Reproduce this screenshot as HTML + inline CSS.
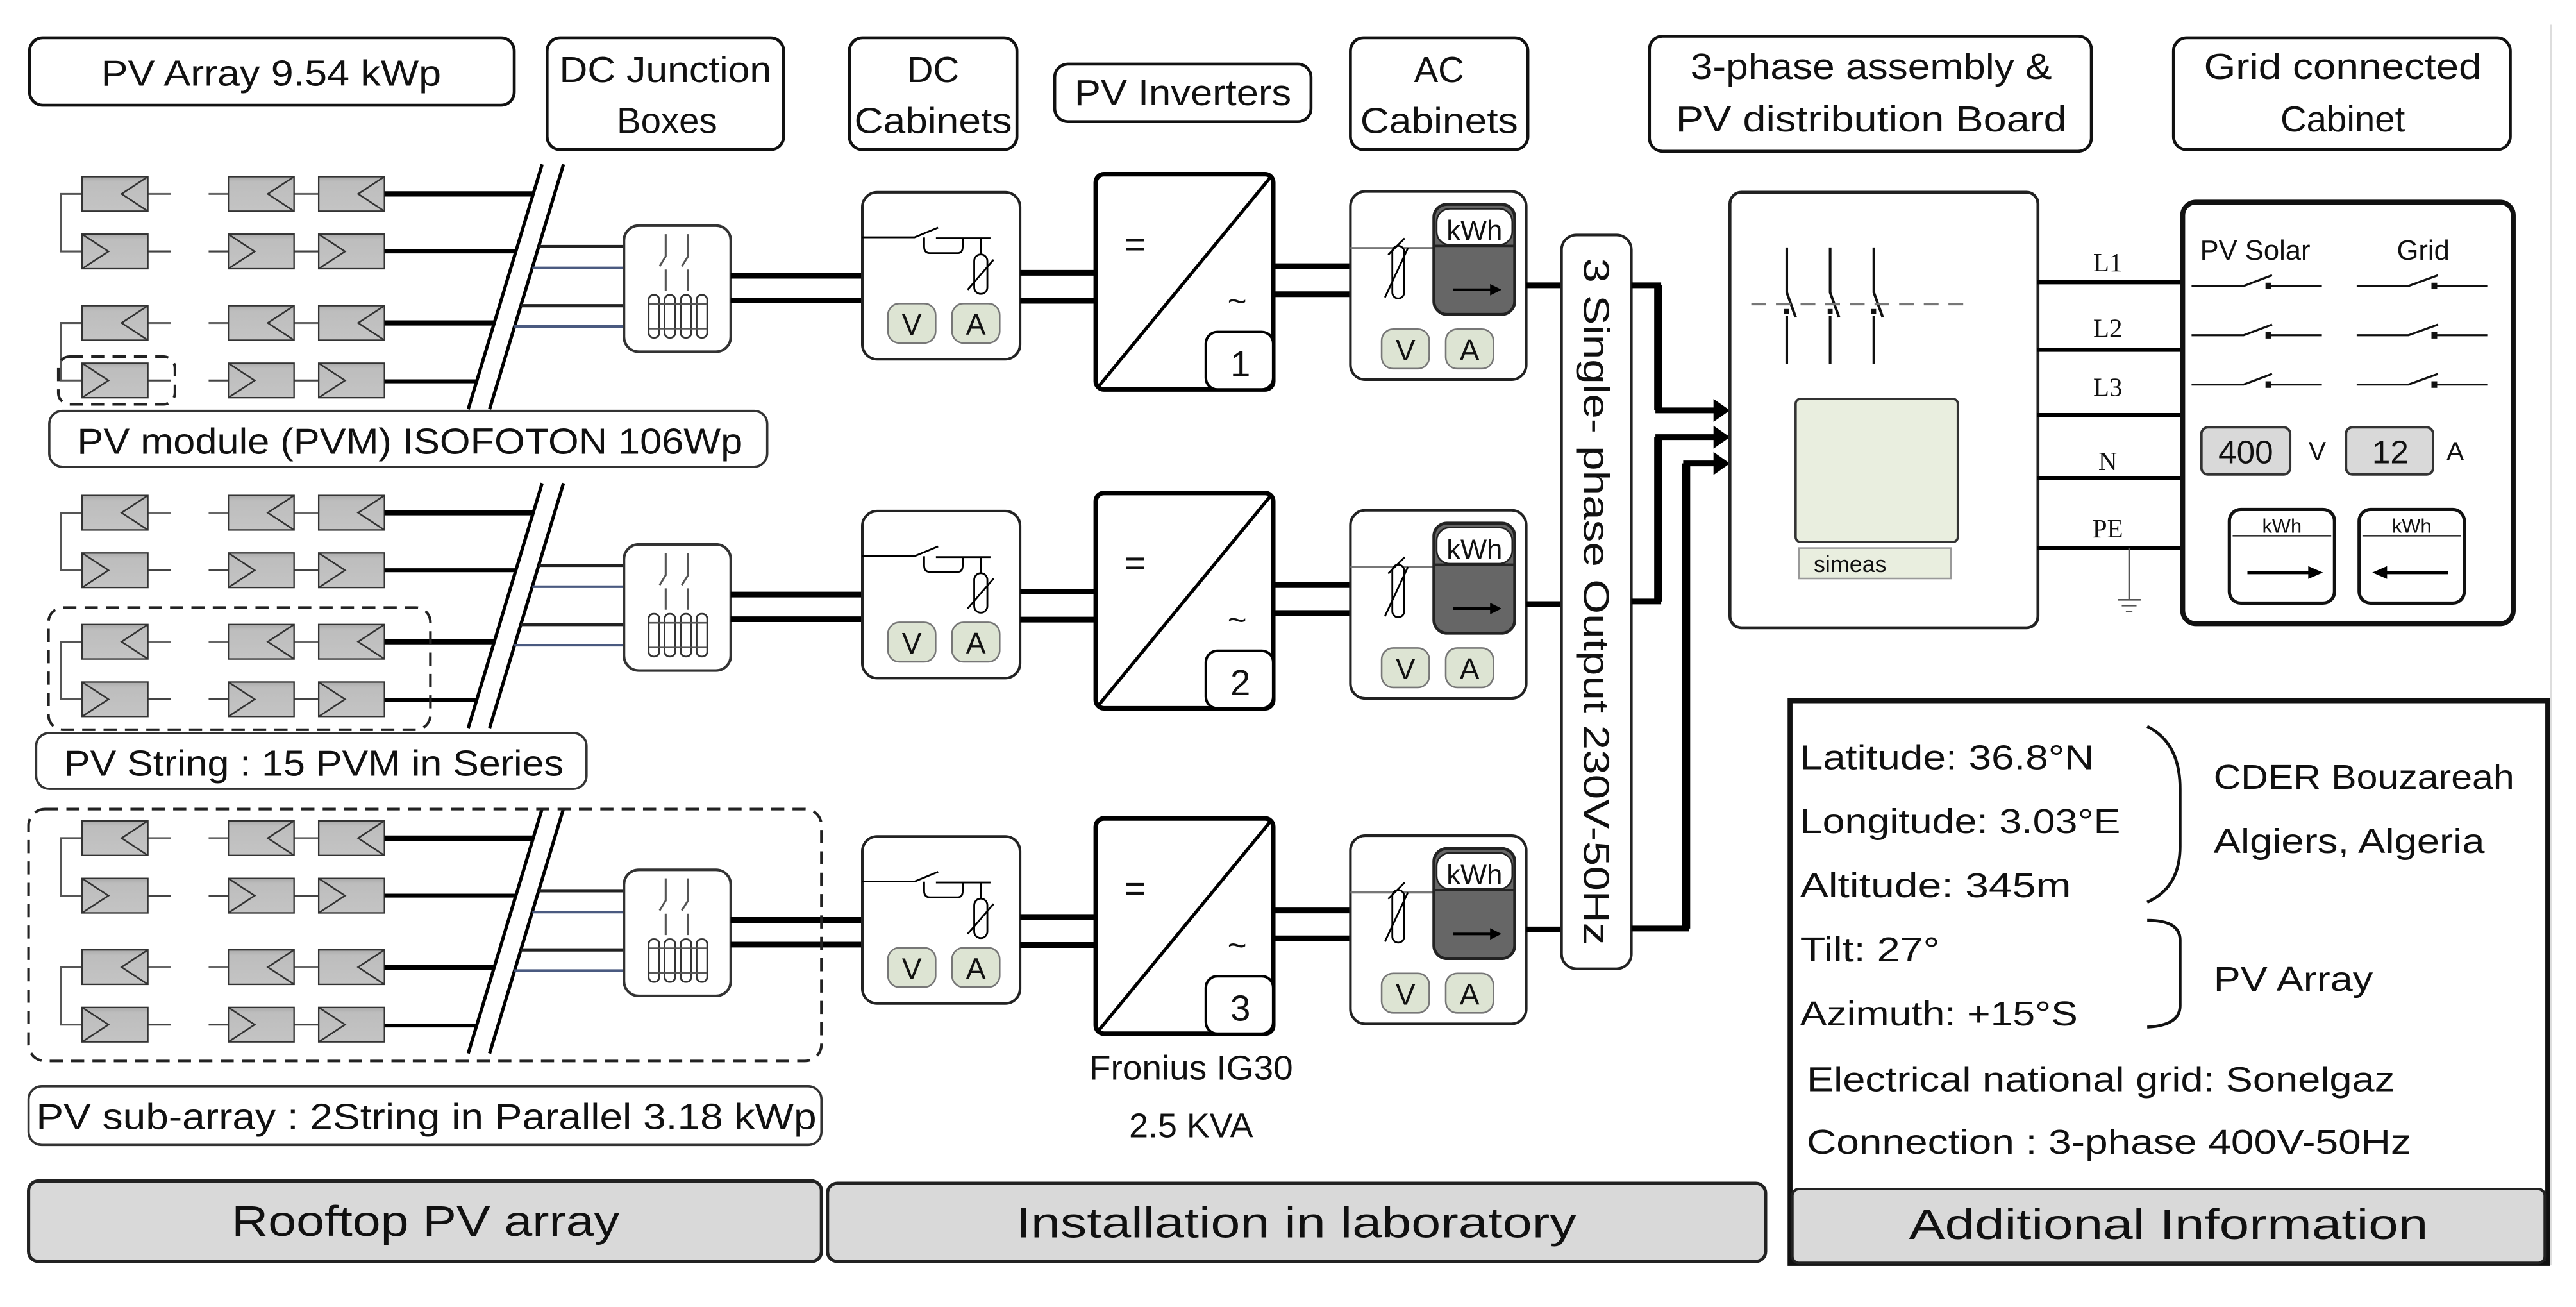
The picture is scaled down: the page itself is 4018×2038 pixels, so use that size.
<!DOCTYPE html>
<html><head><meta charset="utf-8">
<style>
html,body{margin:0;padding:0;background:#fff;}
svg{display:block;}
text{font-family:"Liberation Sans Narrow","Liberation Sans",sans-serif;fill:#111;}
.serif{font-family:"Liberation Serif",serif;}
</style></head>
<body>
<svg width="4018" height="2038" viewBox="0 0 1568 795.3" xmlns="http://www.w3.org/2000/svg">
<defs>
  <linearGradient id="mg" x1="0" y1="0" x2="0" y2="1">
    <stop offset="0" stop-color="#a9a9a9"/><stop offset="0.15" stop-color="#bdbdbd"/><stop offset="1" stop-color="#c4c4c4"/>
  </linearGradient>
  <g id="mL"><rect x="0" y="0" width="40" height="21" fill="url(#mg)" stroke="#333" stroke-width="0.9"/><polyline points="40,0 24,10.5 40,21" fill="none" stroke="#333" stroke-width="1"/></g>
  <g id="mR"><rect x="0" y="0" width="40" height="21" fill="url(#mg)" stroke="#333" stroke-width="0.9"/><polyline points="0,0 16,10.5 0,21" fill="none" stroke="#333" stroke-width="1"/></g>
  <g id="pair">
    <!-- top string (y=0) and bottom string (y=35) -->
    <path d="M50,10.5 H37 V45.5 H50" fill="none" stroke="#555" stroke-width="1.2"/>
    <path d="M90,10.5 H104 M127,10.5 H139 M179,10.5 H194" stroke="#666" stroke-width="1.2"/>
    <path d="M90,45.5 H104 M127,45.5 H139 M179,45.5 H194" stroke="#444" stroke-width="1.2"/>
    <use href="#mL" x="50" y="0"/><use href="#mL" x="139" y="0"/><use href="#mL" x="194" y="0"/>
    <use href="#mR" x="50" y="35"/><use href="#mR" x="139" y="35"/><use href="#mR" x="194" y="35"/>
  </g>
  <g id="badgeV"><rect x="0" y="0" width="29" height="24" rx="7" fill="#dde4d3" stroke="#777" stroke-width="1"/><text x="14.5" y="19" font-size="18" text-anchor="middle" style="font-family:'Liberation Sans',sans-serif">V</text></g>
  <g id="badgeA"><rect x="0" y="0" width="29" height="24" rx="7" fill="#dde4d3" stroke="#777" stroke-width="1"/><text x="14.5" y="19" font-size="18" text-anchor="middle" style="font-family:'Liberation Sans',sans-serif">A</text></g>
  <g id="row">
    <use href="#pair" x="0" y="107.5"/>
    <use href="#pair" x="0" y="186"/>
    <!-- thick lines to slash -->
    <path d="M234,118 H325 M234,196.5 H301" stroke="#000" stroke-width="3.2"/>
    <path d="M234,153 H314 M234,232 H290" stroke="#000" stroke-width="2.4"/>
    <!-- slash -->
    <path d="M330,100 L285,249 M343,100 L298,249" stroke="#000" stroke-width="2"/>
    <!-- lines to JB -->
    <path d="M328,150 H380 M317,186 H380" stroke="#222" stroke-width="2"/>
    <path d="M324,163 H380 M313,198.6 H380" stroke="#4a5a80" stroke-width="1.6"/>
    <!-- Junction box -->
    <rect x="379.8" y="137.3" width="65" height="76.7" rx="9" fill="#fff" stroke="#333" stroke-width="1.6"/>
    <path d="M405.2,142.5 V156 L401.5,162 M405.2,164 V177 M418.8,142.5 V156 L415,162 M418.8,164 V177" stroke="#555" stroke-width="1.2" fill="none"/>
    <g fill="#fff" stroke="#333" stroke-width="1.1">
      <rect x="394.8" y="179.5" width="6.5" height="26" rx="3"/><rect x="404.5" y="179.5" width="6.5" height="26" rx="3"/>
      <rect x="414.3" y="179.5" width="6.5" height="26" rx="3"/><rect x="424" y="179.5" width="6.5" height="26" rx="3"/>
    </g>
    <path d="M395,185 H430.5 M395,200 H430.5" stroke="#555" stroke-width="1"/>
    <!-- JB to DC cab -->
    <path d="M444.8,167.8 H525 M444.8,182.8 H525" stroke="#000" stroke-width="3.5"/>
    <!-- DC cabinet -->
    <rect x="524.9" y="117" width="96" height="101.6" rx="9" fill="#fff" stroke="#222" stroke-width="1.6"/>
    <path d="M524.9,144.4 H556.7 L571,138.5 M569.7,145 H602.9 M597,145 V154.8" stroke="#000" stroke-width="1.1" fill="none"/>
    <path d="M562.5,144.5 V150 Q562.5,154 566,154 H583 Q586,154 586,150 V145" stroke="#000" stroke-width="1.1" fill="none"/>
    <rect x="593" y="154.8" width="8" height="24" rx="4" fill="#fff" stroke="#000" stroke-width="1.1"/>
    <path d="M589,176.3 L604.8,158" stroke="#000" stroke-width="1.1"/>
    <use href="#badgeV" x="540.5" y="184.7"/><use href="#badgeA" x="579.5" y="184.7"/>
    <!-- DC cab to inverter -->
    <path d="M621,166 H668 M621,183 H668" stroke="#000" stroke-width="3.5"/>
    <!-- Inverter -->
    <rect x="667" y="106" width="108" height="131" rx="5" fill="#fff" stroke="#000" stroke-width="2.8"/>
    <path d="M668,236 L774,107" stroke="#000" stroke-width="2"/>
    <text x="691" y="156" font-size="22" text-anchor="middle">=</text>
    <text x="753" y="190" font-size="20" text-anchor="middle">~</text>
    <rect x="734" y="202" width="41" height="35" rx="7" fill="#fff" stroke="#000" stroke-width="1.6"/>
    <!-- inverter to AC -->
    <path d="M775,162 H823 M775,179 H823" stroke="#000" stroke-width="3.5"/>
    <!-- AC cabinet -->
    <rect x="822" y="116.5" width="107" height="114.5" rx="9" fill="#fff" stroke="#222" stroke-width="1.6"/>
    <path d="M822,151 H873" stroke="#777" stroke-width="1.4"/>
    <rect x="872.8" y="124.3" width="49.2" height="67" rx="8" fill="#666" stroke="#222" stroke-width="1.8"/>
    <rect x="874.5" y="127" width="46" height="22" rx="8" fill="#fff" stroke="#222" stroke-width="1"/>
    <text x="897.5" y="146" font-size="17" text-anchor="middle" style="font-family:'Liberation Sans',sans-serif">kWh</text>
    <path d="M872.8,149.6 H922" stroke="#222" stroke-width="1.5"/>
    <path d="M884.5,176.3 H908" stroke="#000" stroke-width="1.6"/><polygon points="907,172.8 914,176.3 907,179.8" fill="#000"/>
    <rect x="847.5" y="149.6" width="7.2" height="32" rx="3.6" fill="#fff" stroke="#000" stroke-width="1.1"/>
    <path d="M843,181 L857,151 M845,155 L855,145" stroke="#000" stroke-width="1.1"/>
    <use href="#badgeV" x="841" y="200.3"/><use href="#badgeA" x="880" y="200.3"/>
    <!-- output -->
    <path d="M929,173.6 H951" stroke="#000" stroke-width="3.5"/>
  </g>
  <marker id="ah" viewBox="0 0 10 10" refX="9" refY="5" markerWidth="3" markerHeight="3" orient="auto"><path d="M0,0 L10,5 L0,10 z" fill="#000"/></marker>
</defs>

<!-- faint border line -->
<path d="M1552.7,15 V770" stroke="#ddd" stroke-width="1"/>

<!-- Header boxes -->
<g fill="#fff" stroke="#111" stroke-width="1.8">
  <rect x="18" y="23" width="295" height="41" rx="8"/>
  <rect x="333" y="23" width="144" height="68" rx="8"/>
  <rect x="517" y="23" width="102" height="68" rx="8"/>
  <rect x="642" y="39" width="156" height="35" rx="8"/>
  <rect x="822" y="23" width="108" height="68" rx="8"/>
  <rect x="1004" y="22" width="269" height="70" rx="8"/>
  <rect x="1323" y="23" width="205" height="68" rx="8"/>
</g>
<g font-size="22" text-anchor="middle">
  <text x="165" y="52" textLength="207" lengthAdjust="spacingAndGlyphs">PV Array 9.54 kWp</text>
  <text x="405" y="50" textLength="129" lengthAdjust="spacingAndGlyphs">DC Junction</text>
  <text x="406" y="81">Boxes</text>
  <text x="568" y="50">DC</text>
  <text x="568" y="81" textLength="96" lengthAdjust="spacingAndGlyphs">Cabinets</text>
  <text x="720" y="64" textLength="132" lengthAdjust="spacingAndGlyphs">PV Inverters</text>
  <text x="876" y="50">AC</text>
  <text x="876" y="81" textLength="96" lengthAdjust="spacingAndGlyphs">Cabinets</text>
  <text x="1139" y="48" textLength="220" lengthAdjust="spacingAndGlyphs">3-phase assembly &amp;</text>
  <text x="1139" y="80" textLength="238" lengthAdjust="spacingAndGlyphs">PV distribution Board</text>
  <text x="1426" y="48" textLength="169" lengthAdjust="spacingAndGlyphs">Grid connected</text>
  <text x="1426" y="80">Cabinet</text>
</g>

<!-- Rows -->
<use href="#row" x="0" y="0"/>
<use href="#row" x="0" y="194"/>
<use href="#row" x="0" y="392"/>
<g font-size="22" text-anchor="middle">
  <text x="755" y="229">1</text>
  <text x="755" y="423">2</text>
  <text x="755" y="621">3</text>
</g>

<!-- dashed boxes -->
<g fill="none" stroke="#222" stroke-width="1.6" stroke-dasharray="8,5">
  <rect x="35.5" y="217" width="71" height="29" rx="7"/>
  <rect x="29.5" y="369.7" width="232.5" height="74.3" rx="9"/>
  <rect x="17.4" y="492.3" width="482.6" height="153.3" rx="10"/>
</g>

<!-- row labels -->
<g fill="#fff" stroke="#333" stroke-width="1.4">
  <rect x="30" y="250" width="437" height="34" rx="8"/>
  <rect x="22" y="446" width="335" height="34" rx="8"/>
  <rect x="17.4" y="661" width="482.6" height="35.7" rx="8"/>
</g>
<g font-size="22">
  <text x="47" y="276" textLength="405" lengthAdjust="spacingAndGlyphs">PV module (PVM) ISOFOTON 106Wp</text>
  <text x="39" y="472" textLength="304" lengthAdjust="spacingAndGlyphs">PV String : 15 PVM in Series</text>
  <text x="22" y="687" textLength="475" lengthAdjust="spacingAndGlyphs">PV sub-array   : 2String in Parallel 3.18 kWp</text>
</g>
<g font-size="21" text-anchor="middle">
  <text x="725" y="657" textLength="124" lengthAdjust="spacingAndGlyphs">Fronius IG30</text>
  <text x="725" y="692">2.5 KVA</text>
</g>

<!-- Single phase output box -->
<rect x="950.5" y="143" width="42.5" height="446.5" rx="9" fill="#fff" stroke="#222" stroke-width="1.6"/>
<text transform="translate(964,366) rotate(90)" font-size="22" text-anchor="middle" textLength="418" lengthAdjust="spacingAndGlyphs">3 Single- phase Output  230V-50Hz</text>

<!-- bus -->
<g fill="none" stroke="#000" stroke-width="3.5">
  <path d="M993,173.6 H1009.4 V249.7 H1046"/>
  <path d="M993,366 H1009.4 V266 H1046"/>
  <path d="M993,565 H1026.3 V282 H1046"/>
</g>
<path d="M1009.4,173.6 V249.7 M1009.4,366 V266 M1026.3,565 V282" stroke="#000" stroke-width="5"/>
<g fill="#000">
  <polygon points="1043,242.7 1053,249.7 1043,256.7"/>
  <polygon points="1043,259 1053,266 1043,273"/>
  <polygon points="1043,275 1053,282 1043,289"/>
</g>

<!-- distribution board -->
<rect x="1053" y="117" width="187.5" height="265" rx="7" fill="#fff" stroke="#222" stroke-width="1.8"/>
<g stroke="#111" stroke-width="1.6" fill="none">
  <path d="M1087.6,150.6 V178 L1093,193 M1087.6,192 V221.5"/>
  <path d="M1114,150.6 V178 L1119.4,193 M1114,192 V221.5"/>
  <path d="M1140.6,150.6 V178 L1146,193 M1140.6,192 V221.5"/>
</g>
<path d="M1066,185 H1198" stroke="#777" stroke-width="1.6" stroke-dasharray="9,6"/>
<g fill="#111"><rect x="1086" y="188" width="3" height="3"/><rect x="1112.5" y="188" width="3" height="3"/><rect x="1139" y="188" width="3" height="3"/></g>
<rect x="1093" y="242.7" width="98.7" height="87.1" rx="3" fill="#e9eedf" stroke="#333" stroke-width="1.4"/>
<rect x="1095" y="333.5" width="92.5" height="18.5" fill="#e9eedf" stroke="#999" stroke-width="1"/>
<text x="1104" y="348" font-size="14" style="font-family:'Liberation Sans',sans-serif">simeas</text>

<!-- L lines -->
<g stroke="#000" stroke-width="2.6">
  <path d="M1240,171.7 H1329 M1240,212.8 H1329 M1240,252.6 H1329 M1240,291 H1329 M1240,333.5 H1329"/>
</g>
<g class="serif" font-size="16" text-anchor="middle">
  <text class="serif" x="1283" y="165">L1</text>
  <text class="serif" x="1283" y="205">L2</text>
  <text class="serif" x="1283" y="241">L3</text>
  <text class="serif" x="1283" y="286">N</text>
  <text class="serif" x="1283" y="327">PE</text>
</g>
<path d="M1296,333.5 V365 M1289,365 H1303 M1291.5,368.5 H1300.5 M1294,372 H1298" stroke="#555" stroke-width="1"/>

<!-- grid cabinet -->
<rect x="1328.6" y="123" width="201.2" height="256.5" rx="8" fill="#fff" stroke="#111" stroke-width="3"/>
<text x="1372.7" y="158" font-size="17" text-anchor="middle">PV Solar</text>
<text x="1475" y="158" font-size="17" text-anchor="middle">Grid</text>
<g stroke="#111" stroke-width="1.3" fill="none">
  <path d="M1334,174 H1365.7 L1383,167.5 M1380,174 H1413.3"/>
  <path d="M1434.5,174 H1466 L1484,167.5 M1481,174 H1514"/>
  <path d="M1334,204 H1365.7 L1383,197.5 M1380,204 H1413.3"/>
  <path d="M1434.5,204 H1466 L1484,197.5 M1481,204 H1514"/>
  <path d="M1334,234 H1365.7 L1383,227.5 M1380,234 H1413.3"/>
  <path d="M1434.5,234 H1466 L1484,227.5 M1481,234 H1514"/>
</g>
<g fill="#111"><rect x="1379" y="172" width="3.5" height="4"/><rect x="1480" y="172" width="3.5" height="4"/><rect x="1379" y="202" width="3.5" height="4"/><rect x="1480" y="202" width="3.5" height="4"/><rect x="1379" y="232" width="3.5" height="4"/><rect x="1480" y="232" width="3.5" height="4"/></g>
<rect x="1340" y="260" width="54" height="28.7" rx="4" fill="#d9d9d9" stroke="#333" stroke-width="1.5"/>
<rect x="1428" y="260" width="53" height="28.7" rx="4" fill="#d9d9d9" stroke="#333" stroke-width="1.5"/>
<g font-size="20" text-anchor="middle" style="font-family:'Liberation Sans',sans-serif">
  <text x="1367" y="282" style="font-family:'Liberation Sans',sans-serif">400</text>
  <text x="1455" y="282" style="font-family:'Liberation Sans',sans-serif">12</text>
</g>
<text x="1410.5" y="280" font-size="16" text-anchor="middle">V</text>
<text x="1494.5" y="280" font-size="16" text-anchor="middle">A</text>
<g fill="#fff" stroke="#111" stroke-width="2">
  <rect x="1357" y="310" width="64" height="57" rx="7"/>
  <rect x="1436" y="310" width="64" height="57" rx="7"/>
</g>
<path d="M1359,326 H1419 M1438,326 H1498" stroke="#333" stroke-width="1"/>
<text x="1389" y="324" font-size="12" text-anchor="middle" style="font-family:'Liberation Sans',sans-serif">kWh</text>
<text x="1468" y="324" font-size="12" text-anchor="middle" style="font-family:'Liberation Sans',sans-serif">kWh</text>
<path d="M1368,348.4 H1406" stroke="#000" stroke-width="2"/><polygon points="1405,344.5 1414,348.4 1405,352.3" fill="#000"/>
<path d="M1452,348.4 H1490" stroke="#000" stroke-width="2"/><polygon points="1453,344.5 1444,348.4 1453,352.3" fill="#000"/>

<!-- additional info -->
<rect x="1089.6" y="426.4" width="461.2" height="342.4" fill="#fff" stroke="#111" stroke-width="3"/>
<rect x="1091" y="723.5" width="458" height="45" rx="4" fill="#d9d9d9" stroke="#222" stroke-width="1.6"/>
<g font-size="21">
  <text x="1095.7" y="468" textLength="179" lengthAdjust="spacingAndGlyphs">Latitude: 36.8°N</text>
  <text x="1095.7" y="507" textLength="195" lengthAdjust="spacingAndGlyphs">Longitude: 3.03°E</text>
  <text x="1095.7" y="546" textLength="165" lengthAdjust="spacingAndGlyphs">Altitude: 345m</text>
  <text x="1095.7" y="585" textLength="85" lengthAdjust="spacingAndGlyphs">Tilt: 27°</text>
  <text x="1095.7" y="624" textLength="169" lengthAdjust="spacingAndGlyphs">Azimuth: +15°S</text>
  <text x="1099.7" y="664" textLength="358" lengthAdjust="spacingAndGlyphs">Electrical national grid: Sonelgaz</text>
  <text x="1099.7" y="702" textLength="368" lengthAdjust="spacingAndGlyphs">Connection : 3-phase  400V-50Hz</text>
  <text x="1347.4" y="480" textLength="183" lengthAdjust="spacingAndGlyphs">CDER Bouzareah</text>
  <text x="1347.4" y="519" textLength="165" lengthAdjust="spacingAndGlyphs">Algiers, Algeria</text>
  <text x="1347.4" y="603" textLength="97" lengthAdjust="spacingAndGlyphs">PV Array</text>
</g>
<path d="M1307,442 Q1327,452 1327,480 V515 Q1327,540 1307,549" fill="none" stroke="#111" stroke-width="1.8"/>
<path d="M1307,560 Q1327,560 1327,572 V612 Q1327,624 1307,625" fill="none" stroke="#111" stroke-width="1.8"/>

<!-- bottom section boxes -->
<rect x="17.4" y="718.6" width="482.6" height="49" rx="6" fill="#d9d9d9" stroke="#222" stroke-width="2"/>
<rect x="503.7" y="720" width="571" height="47.6" rx="6" fill="#d9d9d9" stroke="#222" stroke-width="2"/>
<g font-size="26" text-anchor="middle">
  <text x="259" y="752" textLength="236" lengthAdjust="spacingAndGlyphs">Rooftop PV array</text>
  <text x="789" y="753" textLength="341" lengthAdjust="spacingAndGlyphs">Installation in laboratory</text>
  <text x="1320" y="754" textLength="316" lengthAdjust="spacingAndGlyphs">Additional Information</text>
</g>
</svg>
</body></html>
